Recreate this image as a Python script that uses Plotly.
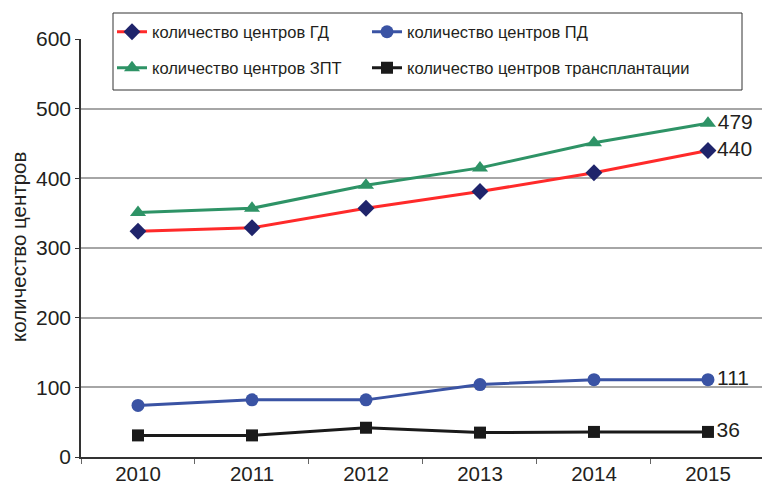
import plotly.graph_objects as go

years = ["2010", "2011", "2012", "2013", "2014", "2015"]
hd_centers = [324, 329, 357, 381, 408, 440]
pd_centers = [74, 82, 82, 104, 111, 111]
rrt_centers = [351, 357, 390, 415, 451, 479]
tx_centers = [31, 31, 42, 35, 36, 36]

names = [
    "количество центров ГД",
    "количество центров ПД",
    "количество центров ЗПТ",
    "количество центров трансплантации",
]
y_ticks = [0, 100, 200, 300, 400, 500, 600]

FONT = "Liberation Sans, Arial, sans-serif"
TXT = "#231f20"

W, H = 762, 485
L, R, T, B = 81, 0, 39, 28
PW, PH = W - L - R, H - T - B


def px_x(p):
    return (p - L) / PW


def px_y(p):
    return (H - B - p) / PH


def cx(p):
    return p / W


def cy(p):
    return 1 - p / H


def last_label(vals):
    return [""] * (len(vals) - 1) + [str(vals[-1])]


series = [
    (hd_centers, names[0], "#ff2a2a", "diamond", 13, "#1f246b", "legend"),
    (pd_centers, names[1], "#3a53a4", "circle", 13, "#3a53a4", "legend2"),
    (rrt_centers, names[2], "#2e9366", "triangle-up", 14, "#2e9366", "legend3"),
    (tx_centers, names[3], "#1a1a1a", "square", 12, "#1a1a1a", "legend4"),
]

fig = go.Figure()
for vals, name, lc, sym, ms, mc, lg in series:
    fig.add_trace(go.Scatter(
        x=years, y=vals, name=name, mode="lines+markers+text",
        line=dict(color=lc, width=3),
        marker=dict(symbol=sym, size=ms, color=mc),
        text=last_label(vals), textposition="middle right",
        textfont=dict(family=FONT, size=21, color=TXT),
        legend=lg, cliponaxis=False,
    ))

leg_common = dict(
    orientation="h", xanchor="left", yanchor="middle",
    xref="container", yref="container",
    bgcolor="rgba(0,0,0,0)", borderwidth=0,
    font=dict(family=FONT, size=16.5, color=TXT),
)
col1, col2 = 112, 367
row1, row2 = 32, 68
fig.update_layout(
    legend=dict(x=cx(col1), y=cy(row1), **leg_common),
    legend2=dict(x=cx(col2), y=cy(row1), **leg_common),
    legend3=dict(x=cx(col1), y=cy(row2), **leg_common),
    legend4=dict(x=cx(col2), y=cy(row2), **leg_common),
)

fig.add_shape(
    type="rect", xref="paper", yref="paper",
    x0=px_x(113), x1=px_x(742), y0=px_y(90), y1=px_y(13),
    line=dict(color="#333333", width=1), fillcolor="white", layer="above",
)

fig.add_annotation(
    text="количество центров", xref="paper", yref="paper",
    x=px_x(18), y=px_y(247), xanchor="center", yanchor="middle",
    textangle=-90, showarrow=False,
    font=dict(family=FONT, size=20.5, color=TXT),
)

fig.update_xaxes(
    type="category", range=[-0.5, 5.474], automargin=False,
    showgrid=False, showline=True, linecolor="#333333", linewidth=1.5,
    ticks="outside", tickson="boundaries", ticklen=5, tickcolor="#666666",
    ticklabelstandoff=-2,
    tickfont=dict(family=FONT, size=20.5, color=TXT),
)
fig.update_yaxes(
    range=[0, 600], tickvals=y_ticks, automargin=False,
    showgrid=True, gridcolor="#a6a6a6", gridwidth=1.5,
    showline=True, linecolor="#333333", linewidth=1.5,
    ticks="outside", ticklen=4, tickcolor="#333333",
    tickfont=dict(family=FONT, size=21, color=TXT),
    zeroline=False,
)

fig.update_layout(
    width=W, height=H,
    margin=dict(l=L, r=R, t=T, b=B, autoexpand=False),
    paper_bgcolor="white", plot_bgcolor="white",
    showlegend=True,
)

fig.write_html(
    "out.html",
    config={"displayModeBar": False},
    post_script="document.body.style.margin='0';document.body.style.overflow='hidden';",
)
